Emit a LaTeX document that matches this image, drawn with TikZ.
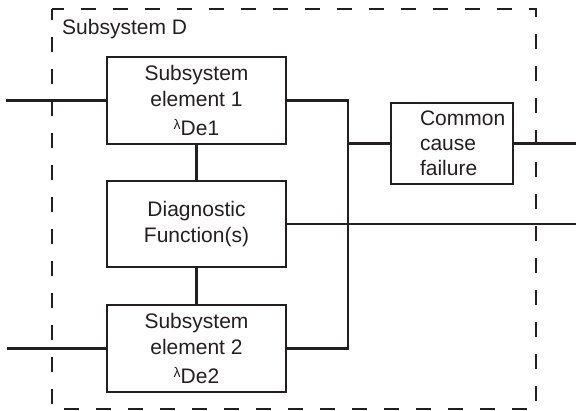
\documentclass[tikz,border=0pt]{standalone}
\usepackage{fontspec}
\setmainfont{Liberation Sans}
\definecolor{ink}{HTML}{231F20}
\newcommand{\lamsub}[1]{{\fontsize{14}{14}\selectfont\raisebox{6pt}{λ}}#1}
\begin{document}
\begin{tikzpicture}[x=1pt, y=-1pt, draw=ink, text=ink,
        block/.style={draw, line width=2.3pt, minimum width=179pt, minimum height=87pt,
            inner sep=0pt, align=center, font=\fontsize{21}{26}\selectfont},
        wire/.style={line width=2.3pt}]
    \useasboundingbox (0,0) rectangle (576,411);

    \draw[line width=2.6pt, dash pattern=on 15pt off 17pt, dash phase=4pt]
        (52,9) -- (52,409) -- (536,409) -- (536,9) -- cycle;
    \node[anchor=base west, inner sep=0pt, font=\fontsize{21}{26}\selectfont] (title) at (62,35) {Subsystem D};

    \node[block] (elem1) at (196.5,100.5) {Subsystem\\element 1\\[3pt]\lamsub{De1}};
    \node[block, minimum height=86pt] (diag) at (196.5,224) {Diagnostic\\Function(s)};
    \node[block] (elem2) at (196.5,348.5) {Subsystem\\element 2\\[3pt]\lamsub{De2}};

    \node[draw, line width=2.3pt, minimum width=122pt, minimum height=81pt, inner sep=0pt] (ccf) at (452,143.5) {};
    \node[anchor=west, align=left, inner sep=0pt, font=\fontsize{21}{25}\selectfont] (ccftext) at ([xshift=30pt]ccf.west) {Common\\cause\\failure};

    \coordinate (in1) at (6,100.5);
    \coordinate (in2) at (7,348.5);
    \coordinate (bus) at (348,0);
    \coordinate (out1) at (576,143.5);
    \coordinate (out2) at (576,224);

    \draw[wire] (in1) -- (elem1.west);
    \draw[wire] (in2) -- (elem2.west);
    \draw[wire] (elem1) -- (diag);
    \draw[wire] (diag) -- (elem2);
    \draw[wire] (elem1.east) -- (elem1.east -| bus) -- (elem2.east -| bus) -- (elem2.east);
    \draw[wire] (ccf.west -| bus) -- (ccf.west);
    \draw[wire] (ccf.east) -- (out1);
    \draw[wire] (diag.east) -- (out2);
\end{tikzpicture}
\end{document}
